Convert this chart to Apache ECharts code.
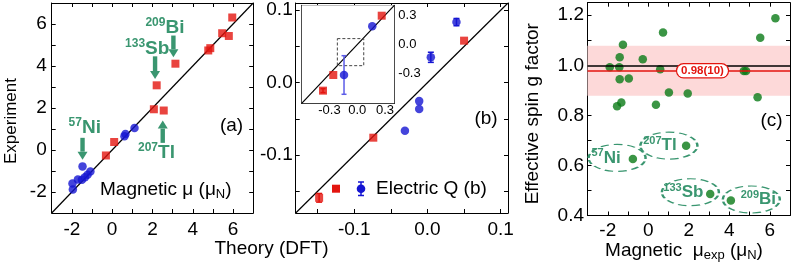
<!DOCTYPE html>
<html><head><meta charset="utf-8">
<script src="https://cdn.jsdelivr.net/npm/echarts@6/dist/echarts.min.js"></script>
<style>html,body{margin:0;padding:0;background:#fff}#c{width:793px;height:268px}</style>
</head><body><div id="c"></div>
<script>
// ---------- Panel (a): magnetic moments, theory vs experiment ----------
const magRed = [[-0.31,-0.26],[0.10,0.38],[2.07,1.94],[2.56,1.88],[2.21,3.08],[3.14,4.11],[4.77,4.74],[4.87,4.85],[5.46,5.56],[5.79,5.43],[5.96,6.31]];
const magBlue = [[-1.47,-0.78],[-1.97,-1.60],[-1.95,-1.88],[-1.70,-1.40],[-1.50,-1.42],[-1.35,-1.30],[-1.22,-1.18],[-1.08,-1.02],[0.61,0.65],[0.66,0.76],[1.11,1.05]];
const aTicks = [-2,-1,0,1,2,3,4,5,6];
const aLabels = [-2,0,2,4,6];
// annotation arrows: [x, yStart, yTip]
const aArrows = [[3.04,5.45,4.42],[2.13,4.46,3.38],[-1.47,0.58,-0.46],[2.51,0.34,1.40]];
// annotation labels: [x, y, mass, element]
const aNotes = [[2.62,5.84,'209','Bi'],[1.74,4.83,'133','Sb'],[-1.36,1.05,'57','Ni'],[2.20,-0.12,'207','Tl']];

// ---------- Panel (b): electric quadrupole moments ----------
const eqRed = [[0.050,0.058,0],[-0.074,-0.076,0],[-0.148,-0.159,0.006]];
const eqBlue = [[0.0396,0.0836,0.005],[0.0046,0.035,0.007],[-0.0113,-0.0255,0],[-0.0113,-0.0364,0],[-0.0308,-0.0664,0]];
const bTicks = [-0.15,-0.1,-0.05,0,0.05,0.1];
const bLabels = [-0.1,0,0.1];
// inset
const inRed = [[0.264,0.294,0],[-0.259,-0.311,0],[-0.37,-0.471,0.02]];
const inBlue = [[0.162,0.186,0],[-0.143,-0.311,0.197]];
const inTicks = [-0.5,-0.4,-0.3,-0.2,-0.1,0,0.1,0.2,0.3];
const inLabels = [-0.3,0,0.3];
const inBox = [[-0.215,0.06],[0.07,0.06],[0.07,-0.216],[-0.215,-0.216],[-0.215,0.06]];

// ---------- Panel (c): effective spin g factor ----------
const gMu  = [-1.90,-1.54,-1.33,-1.43,-1.41,-1.41,-1.25,-0.96,-0.27,0.38,0.59,0.73,1.02,1.95,4.72,4.83,5.40,5.53,6.28,-0.76,1.87,3.06,4.08];
const gVal = [0.992,0.836,0.851,0.992,1.032,0.944,1.082,0.947,1.024,0.842,0.984,1.131,0.891,0.887,0.977,0.977,0.872,1.110,1.188,0.626,0.679,0.486,0.460];
const gMean = 0.978, gErr = 0.10;
const cXTicks = [-2,-1,0,1,2,3,4,5,6];
const cXLabels = [-2,0,2,4,6];
const cYTicks = [0.5,0.6,0.7,0.8,0.9,1.0,1.1,1.2];
const cYLabels = [0.4,0.6,0.8,1.0,1.2];
// ellipse notes: [x, y, mass, element, textOffset]
const cNotes = [[-1.54,0.630,'57','Ni',-11],[1.02,0.679,'207','Tl',-9],[2.08,0.493,'133','Sb',-7],[5.09,0.464,'209','Bi',7]];

// ---------- styling ----------
const FONT = 'Liberation Sans';
const RED = '#e3150f', BLUE = '#1515d2', GREEN = '#0a7a16', G = '#3a9670';
const ELL = 'path://M0,50C0,22.4 22.4,0 50,0C77.6,0 100,22.4 100,50C100,77.6 77.6,100 50,100C22.4,100 0,77.6 0,50Z';

function axisPair(dir, grid, min, max, ticks, labels, fmt, fs, margin, labelOnSecond) {
  const pos = dir === 'x' ? ['bottom','top'] : ['left','right'];
  return pos.map((p, i) => {
    const showLab = labelOnSecond ? i === 1 : i === 0;
    return {
      type:'value', gridIndex:grid, min, max, position:p,
      splitLine:{show:false},
      axisLine:{show:true, onZero:false, lineStyle:{color:'#000', width:1}},
      axisTick:{show:true, inside:true, length:4, customValues:ticks, lineStyle:{color:'#000', width:1}},
      axisLabel:{show:showLab, customValues:labels, formatter:fmt, fontSize:fs, fontFamily:FONT, color:'#000', margin:margin}
    };
  });
}
const fInt = v => String(Math.round(v));
const f1 = v => (Math.abs(v) < 1e-9 ? 0 : v).toFixed(1);

function errRender(color, cap, width) {
  return function (params, api) {
    const x = api.value(0), y = api.value(1), e = api.value(2);
    if (!e) return null;
    const t = api.coord([x, y + e]), b = api.coord([x, y - e]);
    const st = {stroke: color, lineWidth: width};
    return {type:'group', children:[
      {type:'line', shape:{x1:t[0], y1:t[1], x2:b[0], y2:b[1]}, style:st},
      {type:'line', shape:{x1:t[0]-cap, y1:t[1], x2:t[0]+cap, y2:t[1]}, style:st},
      {type:'line', shape:{x1:b[0]-cap, y1:b[1], x2:b[0]+cap, y2:b[1]}, style:st}
    ]};
  };
}
function arrowRender(params, api) {
  const x = api.value(0), y1 = api.value(1), y2 = api.value(2);
  const p1 = api.coord([x, y1]), p2 = api.coord([x, y2]);
  const dir = p2[1] > p1[1] ? 1 : -1;
  const headLen = 8, headW = 5, shaftW = 2.2;
  const base = p2[1] - dir * headLen;
  const top = Math.min(p1[1], base), bot = Math.max(p1[1], base);
  return {type:'group', children:[
    {type:'rect', shape:{x:p1[0]-shaftW, y:top, width:2*shaftW, height:bot-top}, style:{fill:G}},
    {type:'polygon', shape:{points:[[p2[0]-headW, base],[p2[0]+headW, base],[p2[0], p2[1]]]}, style:{fill:G}}
  ]};
}
function noteRich(elSize, supSize) {
  return {
    s:{fontSize:supSize, fontWeight:'bold', color:G, fontFamily:FONT, verticalAlign:'top', lineHeight:supSize+1},
    e:{fontSize:elSize, fontWeight:'bold', color:G, fontFamily:FONT, lineHeight:elSize+3}
  };
}

const xAxis = [].concat(
  axisPair('x',0,-3,7,aTicks,aLabels,fInt,19,7),
  axisPair('x',1,-0.18,0.11,bTicks,bLabels,f1,19,7),
  axisPair('x',2,-0.6,0.4,inTicks,inLabels,f1,13,1),
  axisPair('x',3,-3,7,cXTicks,cXLabels,fInt,19,6)
);
const yAxis = [].concat(
  axisPair('y',0,-3,7,aTicks,aLabels,fInt,19,5),
  axisPair('y',1,-0.18,0.11,bTicks,bLabels,f1,19,3),
  axisPair('y',2,-0.6,0.4,inTicks,inLabels,f1,13,4,true),
  axisPair('y',3,0.4,1.25,cYTicks,cYLabels,f1,19,3.5)
);

const series = [
  // (a)
  {type:'line', xAxisIndex:0, yAxisIndex:0, data:[[-3,-3],[7,7]], symbol:'none', silent:true, z:1,
   lineStyle:{color:'#000', width:1.2},
   markPoint:{silent:true, symbol:'circle', symbolSize:0,
     data: aNotes.map(n => ({coord:[n[0],n[1]], label:{show:true, formatter:`{s|${n[2]}}{e|${n[3]}}`, rich:noteRich(19,12)}}))}
  },
  {type:'custom', xAxisIndex:0, yAxisIndex:0, data:aArrows, renderItem:arrowRender, silent:true, z:2},
  {type:'scatter', xAxisIndex:0, yAxisIndex:0, data:magRed, symbol:'rect', symbolSize:8, itemStyle:{color:RED}, z:3},
  {type:'scatter', xAxisIndex:0, yAxisIndex:0, data:magBlue, symbol:'circle', symbolSize:8.5, itemStyle:{color:BLUE}, z:3},
  // (b)
  {type:'line', xAxisIndex:2, yAxisIndex:2, data:[[-0.18,-0.18],[0.11,0.11]], symbol:'none', silent:true, z:1, lineStyle:{color:'#000', width:1.2}},
  {type:'custom', xAxisIndex:2, yAxisIndex:2, data:eqRed, renderItem:errRender(RED,3,1.5), z:2},
  {type:'custom', xAxisIndex:2, yAxisIndex:2, data:eqBlue, renderItem:errRender(BLUE,3,1.5), z:2},
  {type:'scatter', xAxisIndex:2, yAxisIndex:2, data:eqRed, symbol:'rect', symbolSize:8, itemStyle:{color:RED}, z:3},
  {type:'scatter', xAxisIndex:2, yAxisIndex:2, data:eqBlue, symbol:'circle', symbolSize:8.5, itemStyle:{color:BLUE}, z:3},
  // inset
  {type:'line', xAxisIndex:4, yAxisIndex:4, data:[[-0.6,-0.6],[0.4,0.4]], symbol:'none', silent:true, z:4, lineStyle:{color:'#000', width:1.2}},
  {type:'line', xAxisIndex:4, yAxisIndex:4, data:inBox, symbol:'none', silent:true, z:4, lineStyle:{color:'#444', width:1, type:[3,2]}},
  {type:'custom', xAxisIndex:4, yAxisIndex:4, data:inRed, renderItem:errRender(RED,2.5,1.5), z:5},
  {type:'custom', xAxisIndex:4, yAxisIndex:4, data:inBlue, renderItem:errRender('#5c5ce8',2.5,1.5), z:5},
  {type:'scatter', xAxisIndex:4, yAxisIndex:4, data:inRed, symbol:'rect', symbolSize:8, itemStyle:{color:RED}, z:6},
  {type:'scatter', xAxisIndex:4, yAxisIndex:4, data:inBlue, symbol:'circle', symbolSize:8.5, itemStyle:{color:BLUE}, z:6},
  // (c)
  {type:'line', xAxisIndex:6, yAxisIndex:6, data:[], silent:true, z:1,
   markArea:{silent:true, itemStyle:{color:'#fdd9d9'}, data:[[{yAxis:gMean-gErr},{yAxis:gMean+gErr}]]},
   markLine:{silent:true, symbol:'none', label:{show:false},
     data:[{yAxis:1.0, lineStyle:{color:'#000', width:1.5, type:'solid'}},{yAxis:gMean, lineStyle:{color:RED, width:1.5, type:'solid'}}]}
  },
  {type:'scatter', xAxisIndex:6, yAxisIndex:6, data:gMu.map((m,i)=>[m,gVal[i]]), symbol:'circle', symbolSize:8.5, itemStyle:{color:GREEN}, z:3,
   markPoint:{silent:true,
     data: cNotes.map(n => ({coord:[n[0],n[1]], symbol:ELL, symbolSize:[57,27],
       itemStyle:{color:'rgba(0,0,0,0)', borderColor:G, borderWidth:1.7, borderType:[6,3.5]},
       label:{show:true, position:'inside', offset:[n[4],0], formatter:`{s|${n[2]}}{e|${n[3]}}`, rich:noteRich(17,11)}}))
       .concat([{coord:[2.68,gMean], symbol:'circle', symbolSize:0,
         label:{show:true, formatter:'0.98(10)', color:RED, fontWeight:'bold', fontSize:11.5, fontFamily:FONT,
           backgroundColor:'#fff', borderColor:RED, borderWidth:1.2, borderRadius:8, padding:[1,4,0,4]}}])
   }
  }
];

const T = (o) => Object.assign({type:'text', silent:true}, o);
const graphic = [
  T({x:11, y:121, rotation:Math.PI/2, style:{text:'Experiment', fontSize:17, fontFamily:FONT, fill:'#000', align:'center', verticalAlign:'middle'}}),
  T({x:271.5, y:249, style:{text:'Theory (DFT)', fontSize:19, fontFamily:FONT, fill:'#000', align:'center', verticalAlign:'middle'}}),
  T({x:231.5, y:126, style:{text:'(a)', fontSize:19, fontFamily:FONT, fill:'#000', align:'center', verticalAlign:'middle'}}),
  T({x:486, y:119, style:{text:'(b)', fontSize:19, fontFamily:FONT, fill:'#000', align:'center', verticalAlign:'middle'}}),
  T({x:771.5, y:121, style:{text:'(c)', fontSize:19, fontFamily:FONT, fill:'#000', align:'center', verticalAlign:'middle'}}),
  T({x:100, y:190, style:{text:'{t|Magnetic μ (μ}{b|N}{t|)}', align:'left', verticalAlign:'middle',
    rich:{t:{fontSize:19, fontFamily:FONT, fill:'#000', lineHeight:22}, b:{fontSize:13, fontFamily:FONT, fill:'#000', verticalAlign:'bottom', lineHeight:14}}}}),
  T({x:376, y:189, style:{text:'Electric Q (b)', fontSize:19, fontFamily:FONT, fill:'#000', align:'left', verticalAlign:'middle'}}),
  T({x:532.5, y:113.7, rotation:Math.PI/2, style:{text:'Effective spin g factor', fontSize:19, fontFamily:FONT, fill:'#000', align:'center', verticalAlign:'middle'}}),
  T({x:684, y:251, style:{text:'{t|Magnetic  μ}{b|exp}{t| (μ}{b|N}{t|)}', align:'center', verticalAlign:'middle',
    rich:{t:{fontSize:19, fontFamily:FONT, fill:'#000', lineHeight:22}, b:{fontSize:13, fontFamily:FONT, fill:'#000', verticalAlign:'bottom', lineHeight:14}}}}),
  // legend of panel (b)
  {type:'rect', silent:true, shape:{x:332, y:184.7, width:8, height:8}, style:{fill:RED}},
  {type:'line', silent:true, shape:{x1:361, y1:182, x2:361, y2:195.5}, style:{stroke:BLUE, lineWidth:1.5}},
  {type:'line', silent:true, shape:{x1:358, y1:182, x2:364, y2:182}, style:{stroke:BLUE, lineWidth:1.5}},
  {type:'line', silent:true, shape:{x1:358, y1:195.5, x2:364, y2:195.5}, style:{stroke:BLUE, lineWidth:1.5}},
  {type:'circle', silent:true, shape:{cx:361, cy:188.7, r:4.3}, style:{fill:BLUE}}
];

const chart = echarts.init(document.getElementById('c'), null, {renderer:'canvas'});
chart.setOption({
  animation:false,
  textStyle:{fontFamily:FONT},
  grid:[
    {left:51.7, top:3, width:201.5, height:210},
    {left:295.7, top:3, width:212.3, height:210},
    {left:301.7, top:5.3, width:92.6, height:98, show:true, backgroundColor:'#fff', borderWidth:0, z:3},
    {left:587.5, top:2.7, width:202.5, height:212.8}
  ],
  xAxis, yAxis, series, graphic
});
</script></body></html>
